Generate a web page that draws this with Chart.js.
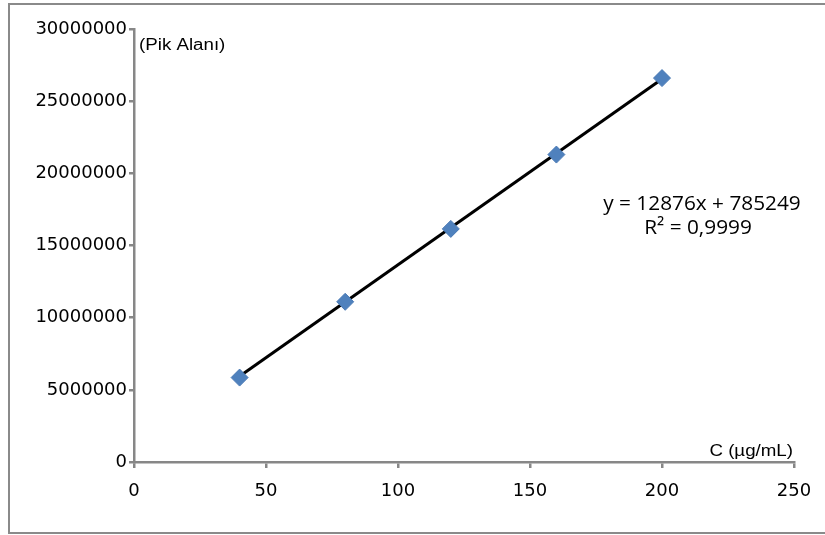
<!DOCTYPE html>
<html>
<head>
<meta charset="utf-8">
<script src="https://cdn.jsdelivr.net/npm/chart.js@4"></script>
<style>
  body { margin: 0; background: #fff; }
  #wrap { width: 825px; height: 535px; position: relative; }
</style>
</head>
<body>
<div id="wrap"><canvas id="kalibrasyon"></canvas></div>
<script>
// concentration (ug/mL) and peak area
const konsantrasyon = [40, 80, 120, 160, 200];
const pikAlani = [5850000, 11100000, 16150000, 21300000, 26600000];

// trendline end points
const trendX = [40, 200];
const trendY = [5935000, 26540000];

const xTicks = [0, 50, 100, 150, 200, 250];
const yTicks = [0, 5000000, 10000000, 15000000, 20000000, 25000000, 30000000];

const denklem = ['y = 12876x + 785249', 'R² = 0,9999'];
const yBaslik = '(Pik Alanı)';
const xBaslik = 'C (µg/mL)';

const axisGray = '#878787';

// stretched text, the original is a bit wider than the fonts we have
function wideText(ctx, txt, x, y, sx) {
  ctx.save();
  ctx.translate(x, y);
  ctx.scale(sx, 1);
  ctx.fillText(txt, 0, 0);
  ctx.restore();
}

// outer frame + the small texts Excel puts on the chart
const extras = {
  id: 'extras',
  beforeDraw(chart) {
    const ctx = chart.ctx;
    ctx.save();
    ctx.fillStyle = '#fff';
    ctx.fillRect(0, 0, chart.width, chart.height);
    ctx.strokeStyle = '#8a8a8a';
    ctx.lineWidth = 2;
    ctx.strokeRect(9, 4, 830, 529);
    ctx.restore();
  },
  afterDraw(chart) {
    const ctx = chart.ctx;
    const xs = chart.scales.x, ys = chart.scales.y;
    ctx.save();
    ctx.fillStyle = '#000';
    ctx.font = '16px "Liberation Sans"';
    ctx.textBaseline = 'middle';
    ctx.textAlign = 'left';
    wideText(ctx, yBaslik, xs.left + 5, ys.top + 17, 1.17);
    ctx.textAlign = 'right';
    wideText(ctx, xBaslik, xs.right - 1, ys.bottom - 10, 1.17);

    ctx.font = '20px "Open Sans"';
    ctx.textAlign = 'center';
    wideText(ctx, denklem[0], 702, 204, 1.04);
    wideText(ctx, denklem[1], 698, 228, 1.04);
    ctx.restore();
  }
};

new Chart(document.getElementById('kalibrasyon'), {
  type: 'scatter',
  data: {
    datasets: [
      {
        type: 'line',
        data: trendX.map((x, i) => ({ x: x, y: trendY[i] })),
        borderColor: '#000',
        borderWidth: 3,
        pointRadius: 0,
        fill: false,
        order: 2
      },
      {
        data: konsantrasyon.map((x, i) => ({ x: x, y: pikAlani[i] })),
        pointStyle: 'rectRot',
        pointRadius: 8.5,
        backgroundColor: '#4f81bd',
        borderColor: '#4a7ab5',
        borderWidth: 1,
        order: 1
      }
    ]
  },
  options: {
    responsive: true,
    maintainAspectRatio: false,
    animation: false,
    layout: { padding: { left: 0, top: 29, right: 31, bottom: 0 } },
    plugins: {
      legend: { display: false },
      tooltip: { enabled: false }
    },
    scales: {
      x: {
        type: 'linear',
        min: 0,
        max: 250,
        afterBuildTicks: s => { s.ticks = xTicks.map(v => ({ value: v })); },
        afterFit: s => { s.height = 73; },
        border: { display: true, color: axisGray, width: 2.5 },
        grid: { drawOnChartArea: false, drawTicks: true, tickLength: 6, color: axisGray, lineWidth: 2.5 },
        ticks: {
          color: '#000',
          padding: 13,
          font: { family: 'DejaVu Sans', size: 18 },
          maxRotation: 0
        }
      },
      y: {
        min: 0,
        max: 30000000,
        afterBuildTicks: s => { s.ticks = yTicks.map(v => ({ value: v })); },
        afterFit: s => { s.width = 134; },
        border: { display: true, color: axisGray, width: 2.5 },
        grid: { drawOnChartArea: false, drawTicks: true, tickLength: 5, color: axisGray, lineWidth: 2.5 },
        ticks: {
          color: '#000',
          padding: 2,
          font: { family: 'DejaVu Sans', size: 18 },
          callback: v => String(v)
        }
      }
    }
  },
  plugins: [extras]
});
</script>
</body>
</html>
